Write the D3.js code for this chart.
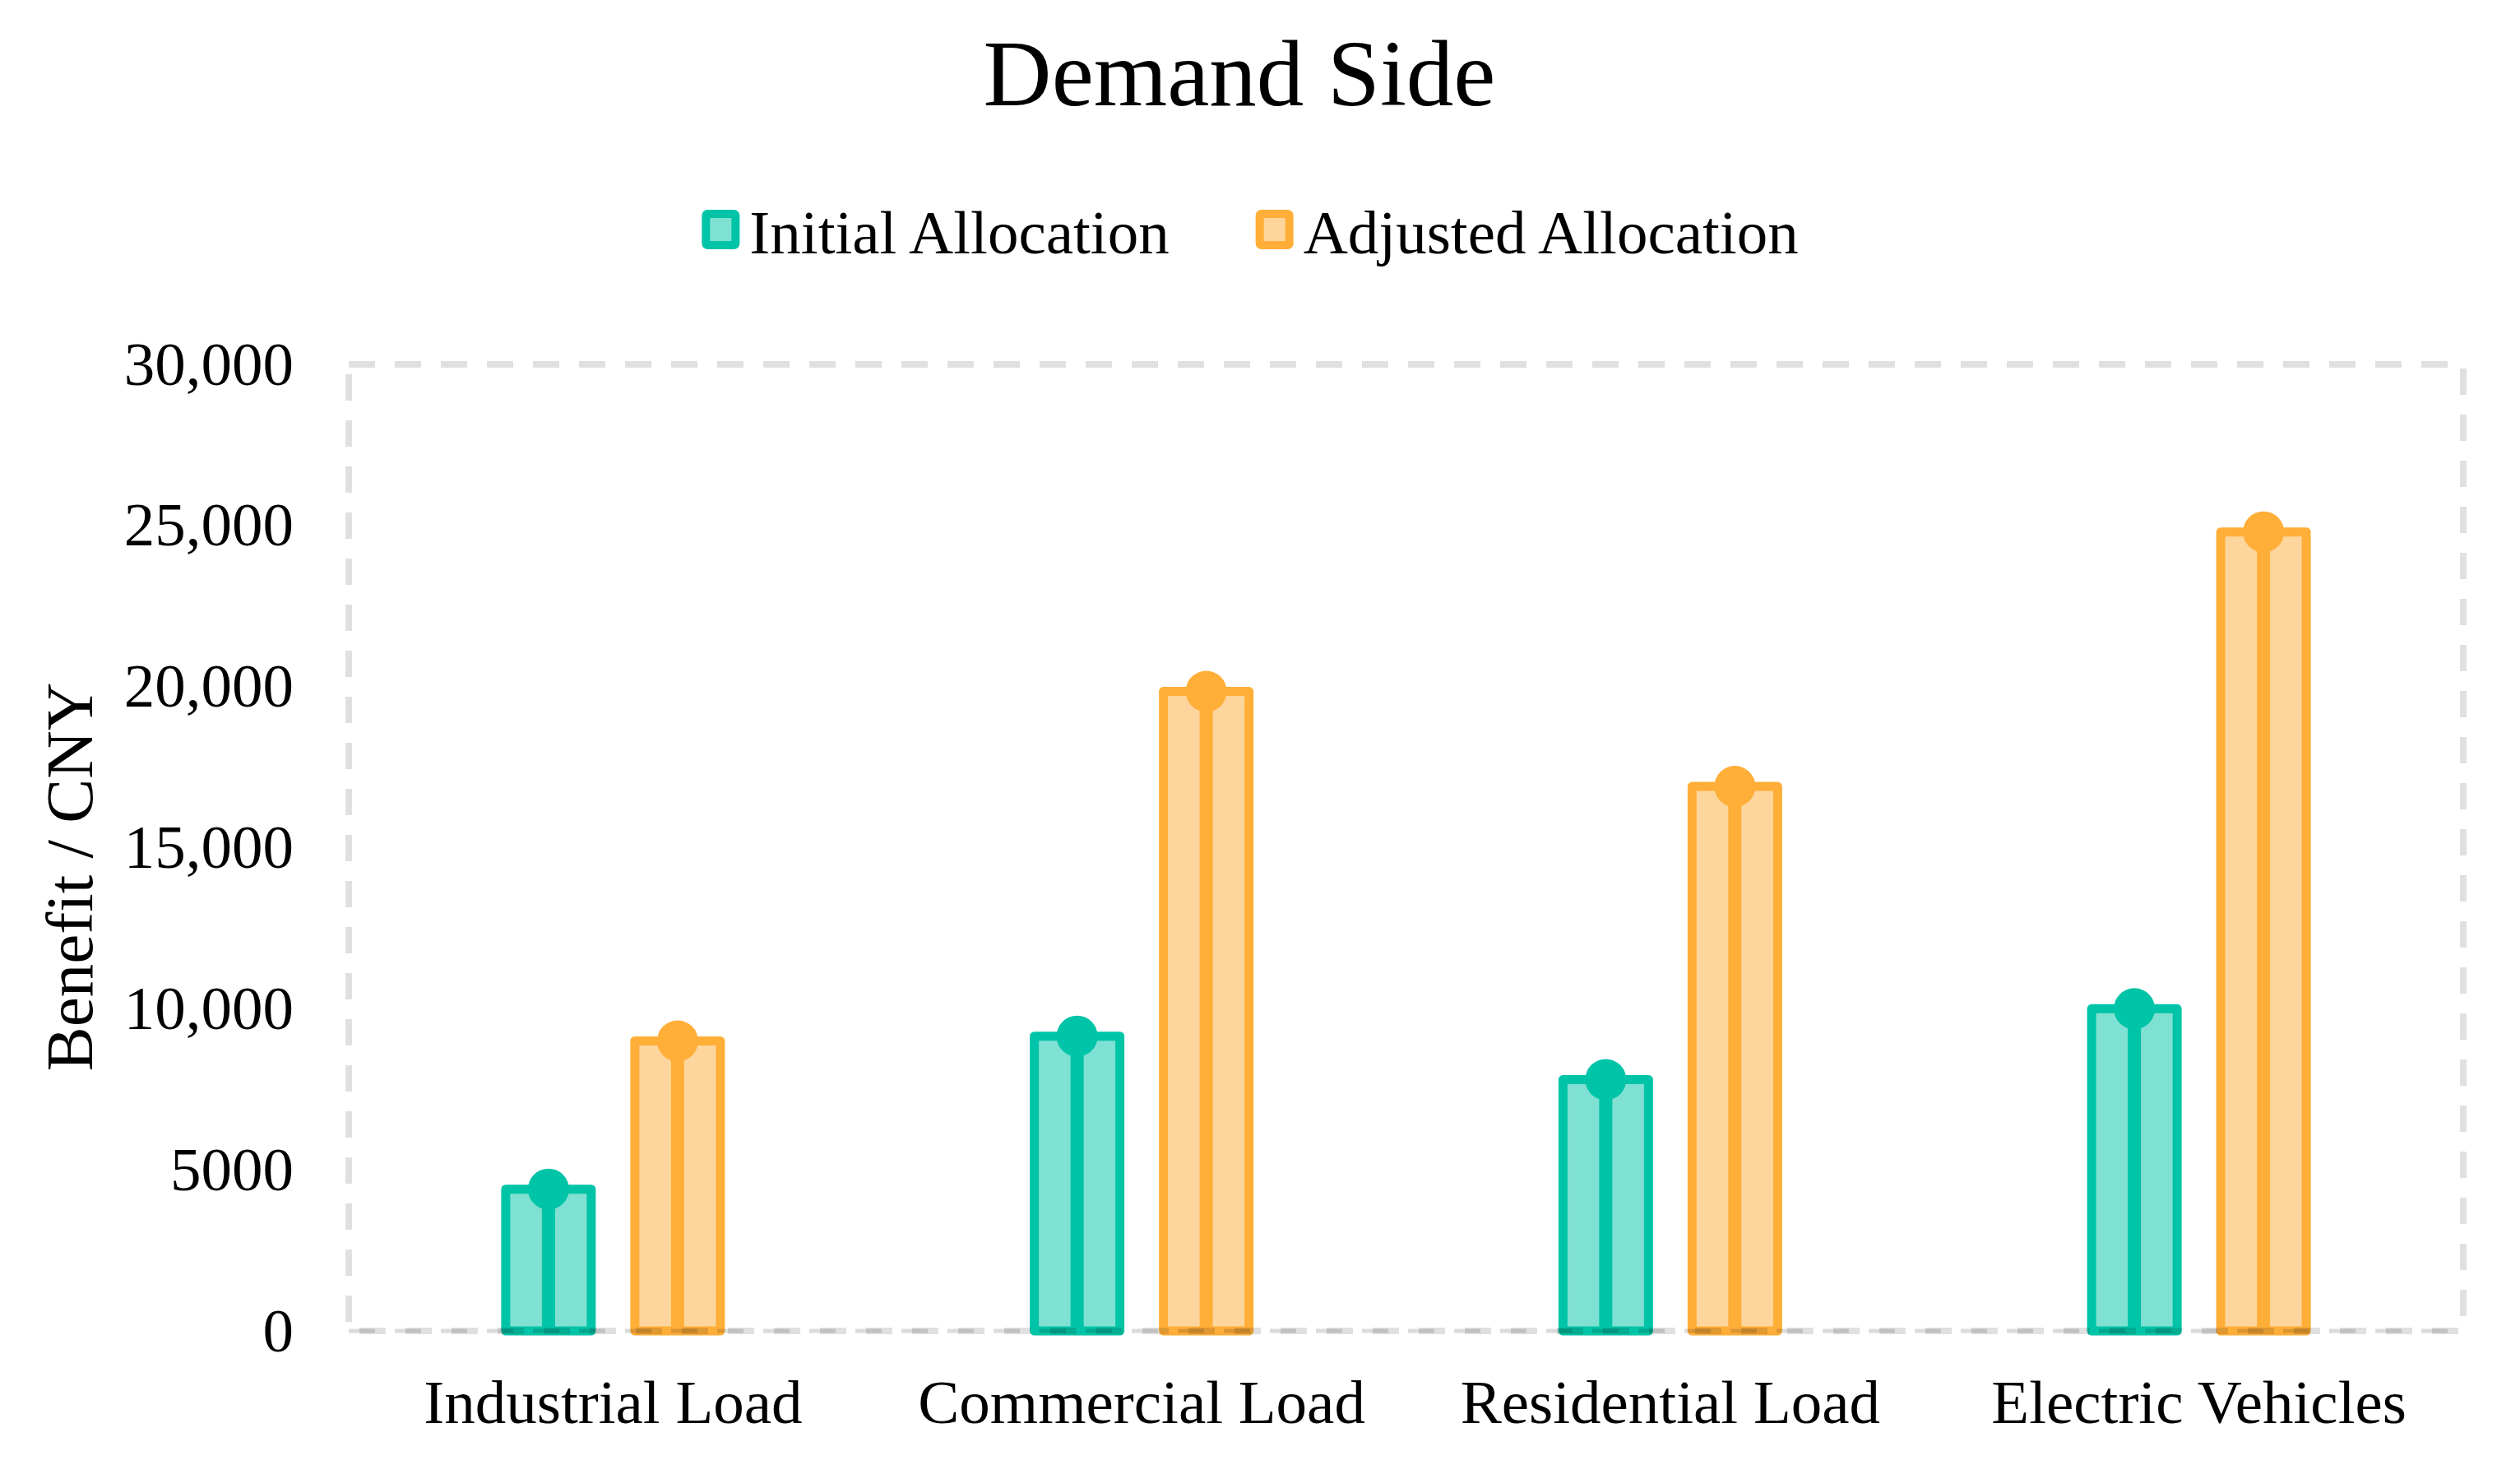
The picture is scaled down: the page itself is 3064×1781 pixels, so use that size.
<!DOCTYPE html>
<html>
<head>
<meta charset="utf-8">
<script src="https://cdn.jsdelivr.net/npm/d3@7"></script>
<style>
  html, body { margin: 0; padding: 0; background: #fff; }
  svg { display: block; font-family: "Liberation Serif", "Times New Roman", serif; }
</style>
</head>
<body>
<div id="chart"></div>
<script>
// Data
const categories = ['Industrial Load', 'Commercial Load', 'Residential Load', 'Electric Vehicles'];
const seriesNames = ['Initial Allocation', 'Adjusted Allocation'];
const initialValues = [4400, 9150, 7800, 10000];
const adjustedValues = [9000, 19850, 16900, 24800];
const tickValues = [0, 5000, 10000, 15000, 20000, 25000, 30000];
const tickLabels = ['0', '5000', '10,000', '15,000', '20,000', '25,000', '30,000'];

const strokeColors = ['#00c4a7', '#ffae38'];
const fillColors = ['#7fe1d3', '#fed69d'];

const W = 3064, H = 1781;
const plot = { left: 424, right: 2995, top: 443, bottom: 1618 };

const svg = d3.select('#chart').append('svg')
    .attr('width', W)
    .attr('height', H);

// Scales
const x0 = d3.scaleBand()
    .domain(categories)
    .range([plot.left, plot.right])
    .padding(0);

const x1 = d3.scaleBand()
    .domain(seriesNames)
    .range([x0.bandwidth() / 2 - 157, x0.bandwidth() / 2 + 157])
    .padding(0);

const y = d3.scaleLinear()
    .domain([0, 30000])
    .range([plot.bottom, plot.top]);

const barW = 104;

// Title
svg.append('text')
    .attr('x', 1507)
    .attr('y', 128)
    .attr('text-anchor', 'middle')
    .attr('font-size', 115)
    .attr('fill', '#000')
    .text('Demand Side');

// Legend
const legend = svg.append('g');
const items = legend.selectAll('g')
    .data(seriesNames)
    .join('g');
items.append('rect')
    .attr('x', 5).attr('y', -24)
    .attr('width', 36).attr('height', 38)
    .attr('rx', 2)
    .attr('fill', (d, i) => fillColors[i])
    .attr('stroke', (d, i) => strokeColors[i])
    .attr('stroke-width', 10)
    .attr('stroke-linejoin', 'round');
items.append('text')
    .attr('x', 58)
    .attr('y', 24)
    .attr('font-size', 75)
    .attr('fill', '#000')
    .text(d => d);

let offset = 0;
const widths = [];
items.each(function() {
    const w = 58 + this.querySelector('text').getComputedTextLength();
    widths.push(w);
});
const gapItems = 105;
const total = d3.sum(widths) + gapItems * (widths.length - 1);
const startX = 1520 - total / 2;
items.attr('transform', (d, i) => {
    const t = `translate(${startX + offset},284)`;
    offset += widths[i] + gapItems;
    return t;
});

// Y axis
const yAxis = svg.append('g')
    .attr('transform', `translate(${plot.left},0)`)
    .call(d3.axisLeft(y)
        .tickValues(tickValues)
        .tickFormat((d, i) => tickLabels[i])
        .tickSize(0)
        .tickPadding(67));
yAxis.select('.domain').remove();
yAxis.selectAll('text')
    .attr('font-size', 75)
    .attr('font-family', '"Liberation Serif", "Times New Roman", serif')
    .attr('fill', '#000');

// X axis labels
const xAxis = svg.append('g')
    .attr('transform', `translate(0,${plot.bottom})`)
    .call(d3.axisBottom(x0).tickSize(0));
xAxis.select('.domain').remove();
xAxis.selectAll('text')
    .attr('dy', null)
    .attr('y', 112)
    .attr('font-size', 75)
    .attr('font-family', '"Liberation Serif", "Times New Roman", serif')
    .attr('fill', '#000');

// Y axis title
svg.append('text')
    .attr('transform', 'translate(112,1066) rotate(-90)')
    .attr('text-anchor', 'middle')
    .attr('font-size', 81)
    .attr('fill', '#000')
    .text('Benefit / CNY');

// Bars
const rows = categories.map((c, i) => ({
    category: c,
    values: [
        { series: seriesNames[0], idx: 0, value: initialValues[i] },
        { series: seriesNames[1], idx: 1, value: adjustedValues[i] }
    ]
}));

const groups = svg.append('g')
    .selectAll('g')
    .data(rows)
    .join('g')
    .attr('transform', d => `translate(${x0(d.category)},0)`);

const bar = groups.selectAll('g')
    .data(d => d.values)
    .join('g');

bar.append('rect')
    .attr('x', d => x1(d.series) + x1.bandwidth() / 2 - barW / 2)
    .attr('y', d => y(d.value))
    .attr('width', barW)
    .attr('height', d => y(0) - y(d.value))
    .attr('fill', d => fillColors[d.idx])
    .attr('stroke', d => strokeColors[d.idx])
    .attr('stroke-width', 11)
    .attr('stroke-linejoin', 'round');

// stem down the middle of each bar
bar.append('line')
    .attr('x1', d => x1(d.series) + x1.bandwidth() / 2)
    .attr('x2', d => x1(d.series) + x1.bandwidth() / 2)
    .attr('y1', y(0))
    .attr('y2', d => y(d.value))
    .attr('stroke', d => strokeColors[d.idx])
    .attr('stroke-width', 16);

bar.append('circle')
    .attr('cx', d => x1(d.series) + x1.bandwidth() / 2)
    .attr('cy', d => y(d.value))
    .attr('r', 25)
    .attr('fill', d => strokeColors[d.idx]);

// Dashed frame on top
svg.append('rect')
    .attr('x', plot.left)
    .attr('y', plot.top)
    .attr('width', plot.right - plot.left)
    .attr('height', plot.bottom - plot.top)
    .attr('fill', 'none')
    .attr('stroke', 'rgba(0,0,0,0.12)')
    .attr('stroke-width', 8)
    .attr('stroke-dasharray', '32,24');

// darker axis baseline
svg.append('line')
    .attr('x1', plot.left).attr('x2', plot.right)
    .attr('y1', y(0)).attr('y2', y(0))
    .attr('stroke', 'rgba(0,0,0,0.14)')
    .attr('stroke-width', 5)
    .attr('stroke-dasharray', '32,24');
</script>
</body>
</html>
